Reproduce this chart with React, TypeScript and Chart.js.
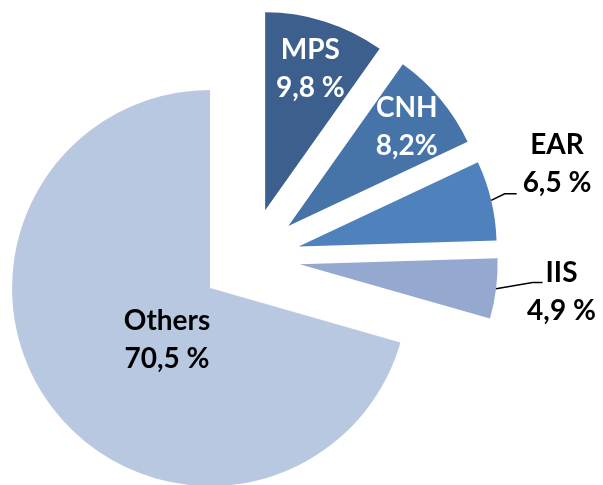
import React, { useEffect, useRef } from "react";
import { Chart, registerables } from "chart.js";

Chart.register(...registerables);

const categories = ["MPS", "CNH", "EAR", "IIS", "Others"];
const shares = [9.8, 8.2, 6.5, 4.9, 70.5];
const valueLabels = ["9,8 %", "8,2%", "6,5 %", "4,9 %", "70,5 %"];
const sliceColors = ["#3C5F8E", "#4673A8", "#4F81BD", "#95A9D0", "#B9C8E1"];
const labelColors = ["#FFFFFF", "#FFFFFF", "#000000", "#000000", "#000000"];

// label placement (distance factor of radius from slice apex, angle tweak in degrees)
const labelPlacement = [
  { k: 0.752, dDeg: 0 },
  { k: 0.78, dDeg: 0 },
  { k: 1.37, dDeg: -4.3 },
  { k: 1.33, dDeg: -1.1 },
  { k: 0.34, dDeg: -13.2 },
];
// leader lines: elbow (k, dDeg) then horizontal run in px
const leaders: ({ k: number; dDeg: number; run: number } | null)[] = [
  null,
  null,
  { k: 1.074, dDeg: -0.9, run: 12 },
  { k: 1.18, dDeg: -2.6, run: 10 },
  null,
];

const EXPLODE = 50;
const RADIUS = 198;
const LINE_GAP = 38;

const explodePlugin = {
  id: "explodeSlices",
  afterDatasetUpdate(chart: any, args: any) {
    const meta = chart.getDatasetMeta(args.index);
    meta.data.forEach((arc: any) => {
      const mid = (arc.startAngle + arc.endAngle) / 2;
      arc.x += Math.cos(mid) * EXPLODE;
      arc.y += Math.sin(mid) * EXPLODE;
    });
  },
};

const labelPlugin = {
  id: "sliceLabels",
  afterDraw(chart: any) {
    const ctx = chart.ctx;
    const meta = chart.getDatasetMeta(0);
    ctx.save();
    meta.data.forEach((arc: any, i: number) => {
      const mid = (arc.startAngle + arc.endAngle) / 2;
      const r = arc.outerRadius;
      const pl = labelPlacement[i];
      const a = mid + (pl.dDeg * Math.PI) / 180;
      const lx = arc.x + Math.cos(a) * r * pl.k;
      const ly = arc.y + Math.sin(a) * r * pl.k;
      const ld = leaders[i];
      if (ld) {
        const sx = arc.x + Math.cos(mid) * r;
        const sy = arc.y + Math.sin(mid) * r;
        const ea = mid + (ld.dDeg * Math.PI) / 180;
        const ex = arc.x + Math.cos(ea) * r * ld.k;
        const ey = arc.y + Math.sin(ea) * r * ld.k;
        ctx.beginPath();
        ctx.moveTo(sx, sy);
        ctx.lineTo(ex, ey);
        ctx.lineTo(ex + ld.run, ey);
        ctx.strokeStyle = "#000000";
        ctx.lineWidth = 1.5;
        ctx.stroke();
      }
      ctx.fillStyle = labelColors[i];
      ctx.font = "bold 28px Lato, 'Open Sans', sans-serif";
      ctx.textAlign = "center";
      ctx.textBaseline = "middle";
      ctx.fillText(categories[i], lx, ly - LINE_GAP / 2);
      ctx.fillText(valueLabels[i], lx, ly + LINE_GAP / 2);
    });
    ctx.restore();
  },
};

export default function App() {
  const canvasRef = useRef<HTMLCanvasElement | null>(null);

  useEffect(() => {
    if (!canvasRef.current) return;
    const chart = new Chart(canvasRef.current, {
      type: "pie",
      data: {
        labels: categories,
        datasets: [
          {
            data: shares,
            backgroundColor: sliceColors,
            borderWidth: 0,
            clip: false as any,
          },
        ],
      },
      options: {
        animation: false,
        responsive: true,
        maintainAspectRatio: false,
        radius: RADIUS,
        layout: { padding: { left: 0, right: 103, top: 31, bottom: 0 } },
        plugins: {
          legend: { display: false },
          tooltip: { enabled: false },
        },
      } as any,
      plugins: [explodePlugin, labelPlugin],
    });
    return () => chart.destroy();
  }, []);

  return (
    <div
      style={{
        position: "absolute",
        left: 0,
        top: 0,
        width: 603,
        height: 485,
        background: "#FFFFFF",
      }}
    >
      <canvas ref={canvasRef} />
    </div>
  );
}
